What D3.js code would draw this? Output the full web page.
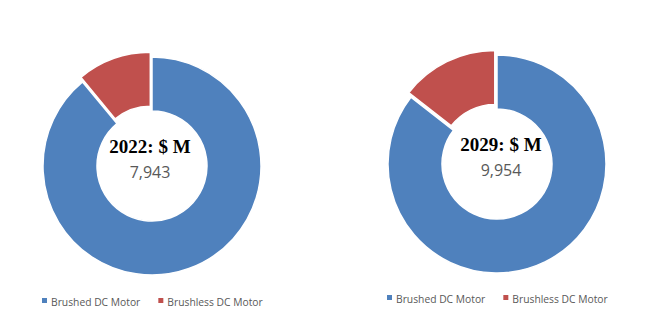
<!DOCTYPE html>
<html><head><meta charset="utf-8">
<script src="https://cdn.jsdelivr.net/npm/d3@7/dist/d3.min.js"></script>
<style>body{margin:0;background:#fff}svg{display:block}</style>
</head><body>
<svg id="c" width="648" height="322"></svg>
<script>
const categories = ["Brushed DC Motor", "Brushless DC Motor"];
const years = ["2022", "2029"];
const totals = ["7,943", "9,954"];
const share2022 = [89, 11];
const share2029 = [85.5, 14.5];
const colors = ["#4F81BD", "#C0504D"];

const svg = d3.select("#c");
const charts = [
  {year: years[0], total: totals[0], values: share2022, cx: 152, cy: 166, tx: 150, lx: 42},
  {year: years[1], total: totals[1], values: share2029, cx: 497, cy: 164, tx: 501, lx: 387}
];
const color = d3.scaleOrdinal().domain(categories).range(colors);
const pie = d3.pie().sort(null).value(d => d.v);
const R = 109, r = 55;
const arc = d3.arc().innerRadius(r).outerRadius(R);

charts.forEach((c, ci) => {
  const g = svg.append("g").attr("transform", `translate(${c.cx},${c.cy})`);
  const data = pie(categories.map((k, i) => ({k, v: c.values[i]})));
  g.selectAll("path").data(data).join("path")
    .attr("d", arc)
    .attr("fill", d => color(d.data.k))
    .attr("stroke", "#fff").attr("stroke-width", 1.5)
    .attr("transform", d => {
      if (d.index !== 1) return null;
      const m = (d.startAngle + d.endAngle) / 2, off = 5;
      return `translate(${Math.sin(m) * off},${-Math.cos(m) * off})`;
    });
  svg.append("text").attr("x", c.tx).attr("y", c.cy - 13)
    .attr("text-anchor", "middle")
    .style("font-family", "'Liberation Serif','Times New Roman',serif")
    .style("font-weight", "bold").style("font-size", "19px").attr("fill", "#000")
    .text(`${c.year}: $ M`);
  svg.append("text").attr("x", c.tx).attr("y", c.cy + 12)
    .attr("text-anchor", "middle")
    .style("font-family", "'Open Sans',sans-serif")
    .style("font-size", "16px").attr("fill", "#595959")
    .text(c.total);
  // legend
  const ly = ci === 0 ? 302 : 299;
  const lg = svg.append("g").attr("transform", `translate(${c.lx},${ly})`);
  let x = 0;
  categories.forEach((k, i) => {
    lg.append("rect").attr("x", x).attr("y", -4).attr("width", 5).attr("height", 5).attr("fill", color(k));
    const t = lg.append("text").attr("x", x + 9).attr("y", 0).attr("dy", "0.35em")
      .style("font-family", "'Open Sans',sans-serif").style("font-size", "10.3px")
      .attr("fill", "#595959").text(k);
    x += 9 + t.node().getComputedTextLength() + 18;
  });
});
</script>
</body></html>
